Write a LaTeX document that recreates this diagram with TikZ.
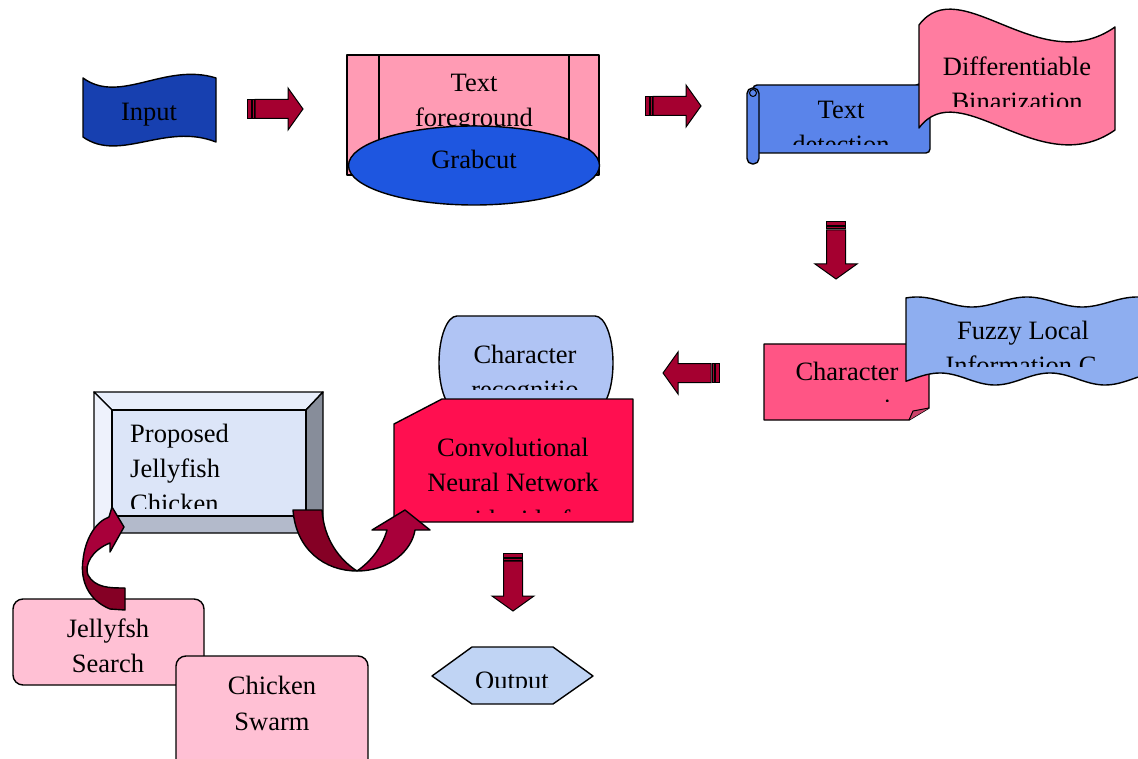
\documentclass[tikz,border=0pt]{standalone}
\usepackage{fontspec}
\setmainfont{Liberation Serif}
\definecolor{inputblue}{HTML}{1740B0}
\definecolor{arrowred}{HTML}{A50030}
\definecolor{arrowdark}{HTML}{850025}
\definecolor{arrowlight}{HTML}{A8003A}
\definecolor{fgpink}{HTML}{FF9BB4}
\definecolor{grabblue}{HTML}{1E56E0}
\definecolor{detblue}{HTML}{5A84EA}
\definecolor{diffpink}{HTML}{FF7CA0}
\definecolor{segpink}{HTML}{FF5585}
\definecolor{fuzzyblue}{HTML}{8EAEF0}
\definecolor{recblue}{HTML}{B0C4F4}
\definecolor{cnnred}{HTML}{FF0F50}
\definecolor{jpink}{HTML}{FFC0D4}
\definecolor{outblue}{HTML}{C0D4F4}
\definecolor{bevtop}{HTML}{E8EEFB}
\definecolor{bevleft}{HTML}{EEF2FC}
\definecolor{bevright}{HTML}{878D9A}
\definecolor{bevbottom}{HTML}{B3BACB}
\definecolor{bevinner}{HTML}{DCE5F8}
\tikzset{
  lbl/.style={font=\fontsize{26.5}{35}\selectfont, inner sep=0pt, anchor=base},
  shp/.style={draw=black, line width=1.4pt, line join=round},
  blockarrow/.style={fill=arrowred, draw=black, line width=1pt, line join=miter},
}
\newcommand\stripedarrow[4]{%
  \begin{scope}[shift={(#1,#2)}, rotate=#3]
    \filldraw[blockarrow] (0,-9.5) rectangle (4,9.5);
    \filldraw[blockarrow] (5,-9.5) rectangle (7,9.5);
    \filldraw[blockarrow] (8,-9.5) -- (#4-15,-9.5) -- (#4-15,-21) -- (#4,0)
      -- (#4-15,21) -- (#4-15,9.5) -- (8,9.5) -- cycle;
  \end{scope}}
\begin{document}
\begin{tikzpicture}[x=1pt,y=-1pt]
\useasboundingbox (0,0) rectangle (1138,759);
\fill[white] (0,0) rectangle (1138,759);

% Input
\filldraw[shp, fill=inputblue] (83,78) .. controls (120,105) and (165,62) .. (216,78)
  -- (216,142) .. controls (165,122) and (120,163) .. (83,137) -- cycle;
\node[lbl] (input) at (149,121) {Input};

% Text foreground / Grabcut
\filldraw[shp, fill=fgpink] (347,55) rectangle (599,175);
\draw[shp] (379,55) -- (379,175) (569,55) -- (569,175);
\node[lbl] (tf1) at (474,92) {Text};
\node[lbl] (tf2) at (474,127) {foreground};
\filldraw[shp, fill=grabblue] (474,165.5) ellipse [x radius=125.5, y radius=39.5];
\node[lbl] (grab) at (474,169) {Grabcut};

% Text detection scroll
\filldraw[shp, fill=detblue] (915,88) arc[start angle=180, end angle=360, radius=4] -- (923,84) -- cycle;
\filldraw[shp, fill=detblue, rounded corners=4] (753,85) rectangle (930,153);
\filldraw[shp, fill=detblue, rounded corners=5.5] (747,88) rectangle (759,164);
\filldraw[shp, fill=detblue, line width=1pt] (753,93) circle (3.5);
\begin{scope}
  \clip (760,80) rectangle (925,144.5);
  \node[lbl] (td1) at (841,119) {Text};
  \node[lbl] (td2) at (841,154) {detection};
\end{scope}

% Differentiable Binarization
\filldraw[shp, fill=diffpink] (919,25) .. controls (960,-30) and (1040,80) .. (1115,27)
  -- (1115,130) .. controls (1040,183) and (960,73) .. (919,128) -- cycle;
\begin{scope}
  \clip (919,0) rectangle (1115,107);
  \node[lbl] (db1) at (1017,76) {Differentiable};
  \node[lbl] (db2) at (1017,111) {Binarization};
\end{scope}

% block arrows
\stripedarrow{247}{109}{0}{56}
\stripedarrow{645}{106}{0}{56}
\stripedarrow{836}{222}{-90}{57}
\stripedarrow{719}{373}{180}{56}
\stripedarrow{513}{553}{-90}{58}

% Character segmentation
\filldraw[shp, fill=segpink] (764,344) -- (929,344) -- (929,408) -- (909,420) -- (764,420) -- cycle;
\filldraw[shp, fill=segpink!80!black, line width=1pt] (909,420) -- (913,411) -- (929,408);
\begin{scope}
  \clip (764,344) rectangle (929,401);
  \node[lbl] (cs1) at (847,381) {Character};
  \node[lbl] (cs2) at (847,417) {segmentation};
\end{scope}

% Fuzzy Local Information
\filldraw[shp, fill=fuzzyblue] plot[domain=906:1145, samples=80, smooth] (\x,{302-5*cos((\x-917)/110*360)})
  -- plot[domain=1145:906, samples=80, smooth] (\x,{379-6*cos((\x-940)/110*360)}) -- cycle;
\begin{scope}
  \clip (906,290) rectangle (1097,366);
  \node[lbl] (fz1) at (1023,339) {Fuzzy Local};
  \node[lbl] (fz2) at (1021,374) {Information C};
\end{scope}

% Character recognition
\filldraw[shp, fill=recblue] (457,316) -- (595,316)
  arc[start angle=-90, end angle=90, x radius=18, y radius=47]
  -- (457,410) arc[start angle=90, end angle=270, x radius=18, y radius=47] -- cycle;
\begin{scope}
  \clip (440,316) rectangle (612,389);
  \node[lbl] (cr1) at (525,363) {Character};
  \node[lbl] (cr2) at (525,398) {recognitio};
\end{scope}

% CNN
\filldraw[shp, fill=cnnred] (442,399) -- (633,399) -- (633,522) -- (394,522) -- (394,424) -- cycle;
\begin{scope}
  \clip (394,399) rectangle (633,512.5);
  \node[lbl] (cn1) at (513,456) {Convolutional};
  \node[lbl] (cn2) at (513,491.5) {Neural Network};
  \node[lbl] (cn3) at (513,528) {with aid of};
\end{scope}

% Proposed bevel box
\filldraw[shp, fill=bevtop] (94,392) -- (323,392) -- (306,410) -- (112,410) -- cycle;
\filldraw[shp, fill=bevleft] (94,392) -- (112,410) -- (112,516) -- (94,533) -- cycle;
\filldraw[shp, fill=bevright] (323,392) -- (323,533) -- (306,516) -- (306,410) -- cycle;
\filldraw[shp, fill=bevbottom] (94,533) -- (323,533) -- (306,516) -- (112,516) -- cycle;
\filldraw[shp, fill=bevinner] (112,410) rectangle (306,516);
\begin{scope}
  \clip (112,410) rectangle (306,508);
  \node[lbl, anchor=base west] (pp1) at (130,442) {Proposed};
  \node[lbl, anchor=base west] (pp2) at (130,477) {Jellyfish};
  \node[lbl, anchor=base west] (pp3) at (130,512) {Chicken};
\end{scope}

% Jellyfish / Chicken
\filldraw[shp, fill=jpink, rounded corners=10] (13,599) rectangle (204,685);
\node[lbl] (js1) at (108,637) {Jellyfsh};
\node[lbl] (js2) at (108,672) {Search};
\filldraw[shp, fill=jpink, rounded corners=10] (176,656) rectangle (368,775);
\begin{scope}
  \clip (176,656) rectangle (368,746.5);
  \node[lbl] (ch1) at (272,694.5) {Chicken};
  \node[lbl] (ch2) at (272,730) {Swarm};
  \node[lbl] (ch3) at (272,766) {Optimization};
\end{scope}

% Output
\filldraw[shp, fill=outblue] (432,676) -- (472,647) -- (553,647) -- (593,676) -- (553,704) -- (472,704) -- cycle;
\begin{scope}
  \clip (432,640) rectangle (593,687);
  \node[lbl] (out) at (512,689) {Output};
\end{scope}

% curved arrow left (Jellyfish -> Proposed)
\def\leftcurve{(125,610) -- (110,609) .. controls (88,600) and (80,580) .. (83,560)
  .. controls (85,540) and (95,522) .. (109,517) -- (112,507) -- (124,527) -- (110,552)
  -- (110,543) .. controls (92,550) and (84,565) .. (88,575)
  .. controls (95,588) and (110,588) .. (125,588) -- cycle}
\fill[arrowlight] \leftcurve;
\begin{scope}
  \clip (60,566) rectangle (140,620);
  \fill[arrowdark] \leftcurve;
\end{scope}
\draw[shp] \leftcurve;

% curved arrow right (Proposed -> CNN)
\filldraw[shp, fill=arrowdark] (293,510) .. controls (296,550) and (325,571) .. (357,571)
  .. controls (340,560) and (324,540) .. (322,510) -- cycle;
\filldraw[shp, fill=arrowlight] (357,571) .. controls (390,571) and (412,550) .. (415,530)
  -- (430,530) -- (405,510) -- (372,530) -- (387,530)
  .. controls (382,548) and (370,562) .. (357,571) -- cycle;
\end{tikzpicture}
\end{document}
